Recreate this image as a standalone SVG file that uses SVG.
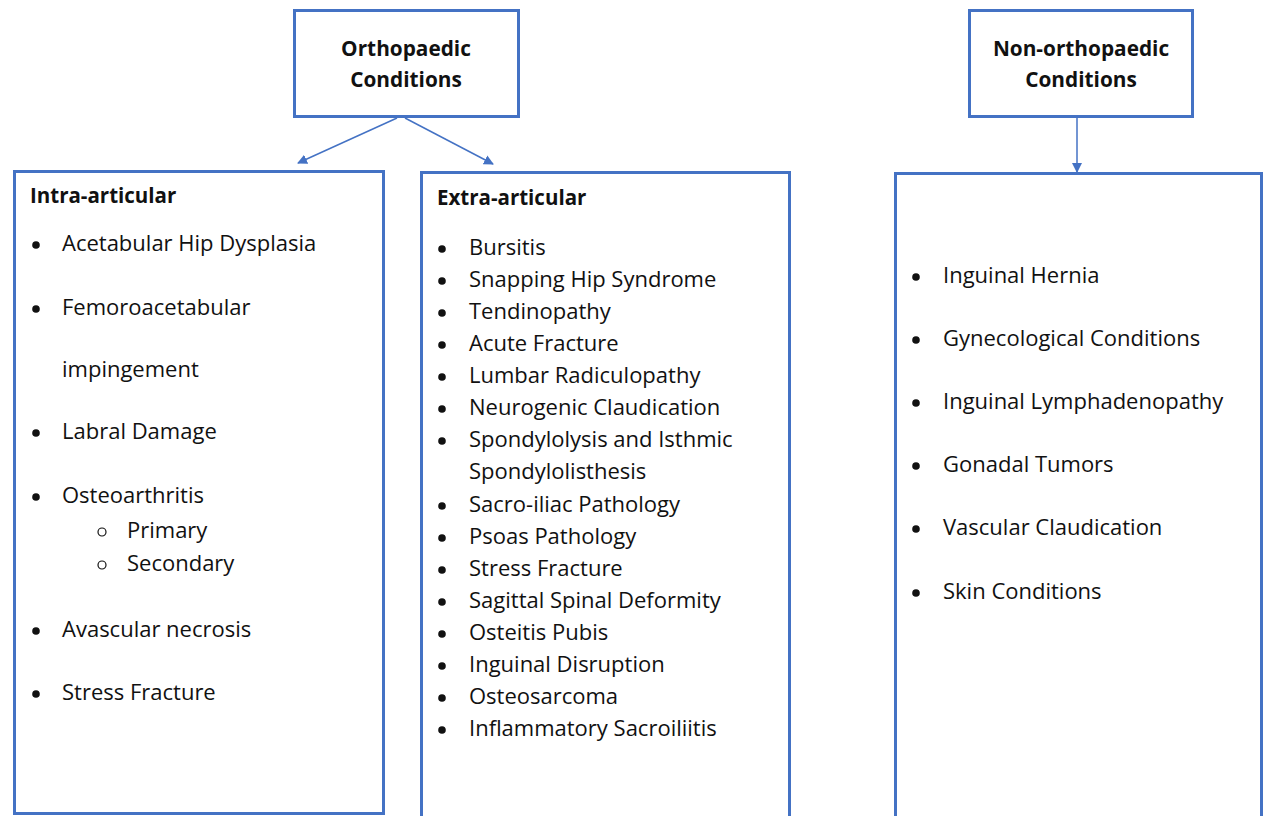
<svg xmlns="http://www.w3.org/2000/svg" width="1264" height="816" viewBox="0 0 1264 816">
<defs>
<style>
.box{fill:#fff;stroke:#4472C4;stroke-width:3}
.t{font-family:"Open Sans","Liberation Sans",sans-serif;font-size:22px;fill:#111}
.b{font-weight:bold;font-size:20.5px}
.c{text-anchor:middle;font-size:20.8px}
.con{stroke:#4472C4;stroke-width:1.5;fill:none}
.dot{fill:#111}
.ring{fill:none;stroke:#111;stroke-width:1.2}
</style>
<marker id="ah" viewBox="0 0 10 10" refX="9" refY="5" markerWidth="10" markerHeight="10" markerUnits="userSpaceOnUse" orient="auto">
<path d="M0,0 L10,5 L0,10 z" fill="#4472C4"/>
</marker>
</defs>
<rect width="1264" height="816" fill="#fff"/>

<g id="connectors">
<line class="con" x1="397" y1="118" x2="298" y2="163" marker-end="url(#ah)"/>
<line class="con" x1="405" y1="118" x2="493" y2="164" marker-end="url(#ah)"/>
<line class="con" x1="1077" y1="118" x2="1077" y2="172" marker-end="url(#ah)"/>
</g>

<g id="ortho">
<rect class="box" x="294.5" y="10.5" width="224" height="106"/>
<text class="t b c" x="406" y="56">Orthopaedic</text>
<text class="t b c" x="406" y="87">Conditions</text>
</g>

<g id="nonortho">
<rect class="box" x="969.5" y="10.5" width="223" height="106"/>
<text class="t b c" x="1081" y="56">Non-orthopaedic</text>
<text class="t b c" x="1081" y="87">Conditions</text>
</g>

<g id="intra">
<rect class="box" x="14.5" y="171.5" width="369" height="642"/>
<text class="t b" x="30" y="203">Intra-articular</text>
<circle class="dot" cx="36" cy="245" r="3.8"/><text class="t" x="62" y="251">Acetabular Hip Dysplasia</text>
<circle class="dot" cx="36" cy="309" r="3.8"/><text class="t" x="62" y="315">Femoroacetabular</text>
<text class="t" x="62" y="377">impingement</text>
<circle class="dot" cx="36" cy="433" r="3.8"/><text class="t" x="62" y="439">Labral Damage</text>
<circle class="dot" cx="36" cy="497" r="3.8"/><text class="t" x="62" y="503">Osteoarthritis</text>
<circle class="ring" cx="102" cy="532" r="4"/><text class="t" x="127" y="538">Primary</text>
<circle class="ring" cx="102" cy="565" r="4"/><text class="t" x="127" y="571">Secondary</text>
<circle class="dot" cx="36" cy="631" r="3.8"/><text class="t" x="62" y="637">Avascular necrosis</text>
<circle class="dot" cx="36" cy="694" r="3.8"/><text class="t" x="62" y="700">Stress Fracture</text>
</g>

<g id="extra">
<rect class="box" x="421.5" y="172.5" width="368" height="660"/>
<text class="t b" x="437" y="205">Extra-articular</text>
<circle class="dot" cx="442" cy="249" r="3.8"/><text class="t" x="469" y="255">Bursitis</text>
<circle class="dot" cx="442" cy="281" r="3.8"/><text class="t" x="469" y="287">Snapping Hip Syndrome</text>
<circle class="dot" cx="442" cy="313" r="3.8"/><text class="t" x="469" y="319">Tendinopathy</text>
<circle class="dot" cx="442" cy="345" r="3.8"/><text class="t" x="469" y="351">Acute Fracture</text>
<circle class="dot" cx="442" cy="377" r="3.8"/><text class="t" x="469" y="383">Lumbar Radiculopathy</text>
<circle class="dot" cx="442" cy="409" r="3.8"/><text class="t" x="469" y="415">Neurogenic Claudication</text>
<circle class="dot" cx="442" cy="441" r="3.8"/><text class="t" x="469" y="447">Spondylolysis and Isthmic</text>
<text class="t" x="469" y="479">Spondylolisthesis</text>
<circle class="dot" cx="442" cy="506" r="3.8"/><text class="t" x="469" y="512">Sacro-iliac Pathology</text>
<circle class="dot" cx="442" cy="538" r="3.8"/><text class="t" x="469" y="544">Psoas Pathology</text>
<circle class="dot" cx="442" cy="570" r="3.8"/><text class="t" x="469" y="576">Stress Fracture</text>
<circle class="dot" cx="442" cy="602" r="3.8"/><text class="t" x="469" y="608">Sagittal Spinal Deformity</text>
<circle class="dot" cx="442" cy="634" r="3.8"/><text class="t" x="469" y="640">Osteitis Pubis</text>
<circle class="dot" cx="442" cy="666" r="3.8"/><text class="t" x="469" y="672">Inguinal Disruption</text>
<circle class="dot" cx="442" cy="698" r="3.8"/><text class="t" x="469" y="704">Osteosarcoma</text>
<circle class="dot" cx="442" cy="730" r="3.8"/><text class="t" x="469" y="736">Inflammatory Sacroiliitis</text>
</g>

<g id="nonortho-list">
<rect class="box" x="895.5" y="173.5" width="366" height="660"/>
<circle class="dot" cx="916" cy="277" r="3.8"/><text class="t" x="943" y="283">Inguinal Hernia</text>
<circle class="dot" cx="916" cy="340" r="3.8"/><text class="t" x="943" y="346">Gynecological Conditions</text>
<circle class="dot" cx="916" cy="403" r="3.8"/><text class="t" x="943" y="409">Inguinal Lymphadenopathy</text>
<circle class="dot" cx="916" cy="466" r="3.8"/><text class="t" x="943" y="472">Gonadal Tumors</text>
<circle class="dot" cx="916" cy="529" r="3.8"/><text class="t" x="943" y="535">Vascular Claudication</text>
<circle class="dot" cx="916" cy="593" r="3.8"/><text class="t" x="943" y="599">Skin Conditions</text>
</g>
</svg>
